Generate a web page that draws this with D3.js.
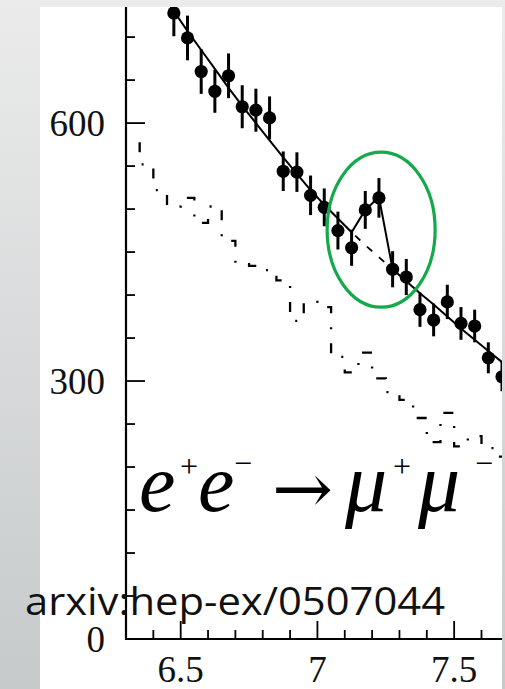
<!DOCTYPE html>
<html>
<head>
<meta charset="utf-8">
<script src="https://cdn.jsdelivr.net/npm/d3@7/dist/d3.min.js"></script>
<style>
  html, body { margin: 0; padding: 0; background: #fff; }
  svg { display: block; }
</style>
</head>
<body>
<svg id="chart" width="505" height="689"></svg>
<script>
// Dimuon invariant mass spectrum, e+e- -> mu+mu- (GeV bins of 0.05)
const binCenters = [6.475, 6.525, 6.575, 6.625, 6.675, 6.725, 6.775, 6.825, 6.875, 6.925,
                    6.975, 7.025, 7.075, 7.125, 7.175, 7.225, 7.275, 7.325, 7.375, 7.425,
                    7.475, 7.525, 7.575, 7.625, 7.675];
const counts     = [728, 699, 660, 637, 655, 619, 615, 606, 544, 543,
                    516, 502, 475, 455, 499, 513, 430, 421, 383, 371,
                    392, 367, 364, 327, 305];
const errors     = [27, 26, 26, 25, 26, 25, 25, 25, 23, 23,
                    23, 22, 22, 21, 22, 23, 21, 21, 20, 19,
                    20, 19, 19, 18, 17];

// Fit (background + peak) evaluated at bin centres
const fitMass   = [6.425, 6.475, 6.525, 6.575, 6.625, 6.675, 6.725, 6.775, 6.825, 6.875,
                   6.925, 6.975, 7.025, 7.075, 7.125, 7.175, 7.225, 7.275, 7.325, 7.375,
                   7.425, 7.475, 7.525, 7.575, 7.625, 7.675];
const fitValues = [753, 730, 707, 685, 663, 641, 620, 600, 580, 560,
                   541, 522, 505, 489, 473, 499, 514, 430, 416, 402,
                   389, 375, 361, 348, 335, 322];
// Background-only part of the fit under the peak
const bgMass   = [7.125, 7.175, 7.225, 7.275];
const bgValues = [473, 458, 444, 430];

// Second distribution, drawn as a step histogram
const histEdges  = [6.30, 6.35, 6.40, 6.45, 6.50, 6.55, 6.60, 6.65, 6.70, 6.75,
                    6.80, 6.85, 6.90, 6.95, 7.00, 7.05, 7.10, 7.15, 7.20, 7.25,
                    7.30, 7.35, 7.40, 7.45, 7.50, 7.55, 7.60, 7.65, 7.70];
const histLevels = [580, 552, 522, 503, 513, 484, 503, 463, 436, 434,
                    429, 417, 370, 392, 386, 328, 310, 333, 303, 287,
                    278, 257, 229, 263, 224, 236, 222, 212];

const xMajorTicks = [6.5, 7, 7.5];
const xMinorTicks = [6.4, 6.6, 6.7, 6.8, 6.9, 7.1, 7.2, 7.3, 7.4, 7.6];
const yMajorTicks = [0, 300, 600];
const yMinorTicks = [50, 100, 150, 200, 250, 350, 400, 450, 500, 550, 650, 700];

const reactionLabel = { e: "e", plus: "+", minus: "\u2212", arrow: "\u2192", mu: "\u03BC" };
const sourceLabel = "arxiv:hep-ex/0507044";
// Region of the excess, in data units
const excess = { mass: 7.233, count: 476 };

const SERIF = "Liberation Serif";
const W = 505, H = 689;
const svg = d3.select("#chart");
const defs = svg.append("defs");

// Backdrop and white panel
const grad = defs.append("linearGradient").attr("id", "bgGrad")
  .attr("x1", 0).attr("y1", 0).attr("x2", 0).attr("y2", 1);
grad.append("stop").attr("offset", "0%").attr("stop-color", "#ebebeb");
grad.append("stop").attr("offset", "100%").attr("stop-color", "#c6cacb");
svg.append("rect").attr("width", W).attr("height", H).attr("fill", "url(#bgGrad)");
const panel = { left: 40, top: 7, right: 502, bottom: 689 };
svg.append("rect").attr("x", panel.left).attr("y", panel.top)
  .attr("width", panel.right - panel.left).attr("height", panel.bottom - panel.top)
  .attr("fill", "#ffffff");

const plot = { left: 126, right: 502, top: 7, bottom: 639 };
const x = d3.scaleLinear().domain([6.30, 7.675]).range([plot.left, plot.right]);
const y = d3.scaleLinear().domain([0, 735]).range([plot.bottom, plot.top]);

defs.append("clipPath").attr("id", "plotClip").append("rect")
  .attr("x", plot.left).attr("y", plot.top)
  .attr("width", plot.right - plot.left).attr("height", plot.bottom - plot.top);

const g = svg.append("g").attr("clip-path", "url(#plotClip)");

// Step histogram with a dash-dot pattern
const stepPts = [[x(histEdges[1]), y(histLevels[0])]];
for (let i = 1; i < histLevels.length; i++) {
  stepPts.push([x(histEdges[i]), y(histLevels[i])]);
  stepPts.push([x(histEdges[i + 1]), y(histLevels[i])]);
}
g.append("path")
  .attr("d", d3.line()(stepPts))
  .attr("fill", "none").attr("stroke", "#000").attr("stroke-width", 2.3)
  .attr("stroke-dasharray", "10,14,2,14").attr("stroke-dashoffset", -2);

// Background under the peak (dashed)
g.append("path")
  .attr("d", d3.line().x((d, i) => x(bgMass[i])).y(d => y(d))(bgValues))
  .attr("fill", "none").attr("stroke", "#000").attr("stroke-width", 1.8)
  .attr("stroke-dasharray", "7,9").attr("stroke-dashoffset", -5);

// Fit
g.append("path")
  .attr("d", d3.line().x((d, i) => x(fitMass[i])).y(d => y(d))(fitValues))
  .attr("fill", "none").attr("stroke", "#000").attr("stroke-width", 2);

// Error bars and points
g.selectAll("line.err").data(counts).join("line").attr("class", "err")
  .attr("x1", (d, i) => x(binCenters[i])).attr("x2", (d, i) => x(binCenters[i]))
  .attr("y1", (d, i) => y(d - errors[i])).attr("y2", (d, i) => y(d + errors[i]))
  .attr("stroke", "#000").attr("stroke-width", 3);
g.selectAll("circle.pt").data(counts).join("circle").attr("class", "pt")
  .attr("cx", (d, i) => x(binCenters[i])).attr("cy", d => y(d))
  .attr("r", 6.6).attr("fill", "#000");

// Axes
const axes = svg.append("g").attr("stroke", "#000");
axes.append("line").attr("x1", plot.left).attr("x2", plot.left)
  .attr("y1", plot.top).attr("y2", plot.bottom + 1).attr("stroke-width", 2.2);
axes.append("line").attr("x1", plot.left - 1).attr("x2", plot.right)
  .attr("y1", plot.bottom).attr("y2", plot.bottom).attr("stroke-width", 2.2);
axes.selectAll("line.xmaj").data(xMajorTicks).join("line").attr("class", "xmaj")
  .attr("x1", d => x(d)).attr("x2", d => x(d))
  .attr("y1", plot.bottom).attr("y2", plot.bottom - 18).attr("stroke-width", 1.8);
axes.selectAll("line.xmin").data(xMinorTicks).join("line").attr("class", "xmin")
  .attr("x1", d => x(d)).attr("x2", d => x(d))
  .attr("y1", plot.bottom).attr("y2", plot.bottom - 9).attr("stroke-width", 1.8);
axes.selectAll("line.ymaj").data(yMajorTicks).join("line").attr("class", "ymaj")
  .attr("x1", plot.left).attr("x2", plot.left + 19)
  .attr("y1", d => y(d)).attr("y2", d => y(d)).attr("stroke-width", 1.8);
axes.selectAll("line.ymin").data(yMinorTicks).join("line").attr("class", "ymin")
  .attr("x1", plot.left).attr("x2", plot.left + 9)
  .attr("y1", d => y(d)).attr("y2", d => y(d)).attr("stroke-width", 1.8);

svg.selectAll("text.ylab").data(yMajorTicks).join("text").attr("class", "ylab")
  .attr("x", 105).attr("y", d => y(d) + 13)
  .attr("text-anchor", "end").attr("font-family", SERIF).attr("font-size", 37)
  .attr("fill", "#111").text(d => d);
svg.selectAll("text.xlab").data(xMajorTicks).join("text").attr("class", "xlab")
  .attr("x", d => x(d)).attr("y", 682)
  .attr("text-anchor", "middle").attr("font-family", SERIF).attr("font-size", 37)
  .attr("fill", "#111").text(d => d);

// Excess marker
svg.append("ellipse")
  .attr("cx", x(excess.mass)).attr("cy", y(excess.count))
  .attr("rx", 54).attr("ry", 77.5)
  .attr("fill", "none").attr("stroke", "#14a94b").attr("stroke-width", 3.2);

// Reaction label: italic particle symbols with upright superscript charges
const rx = svg.append("g").attr("fill", "#000");
const pieces = [
  { t: reactionLabel.e,     x: 139, y: 511, size: 82, italic: true },
  { t: reactionLabel.plus,  x: 180, y: 477, size: 32, italic: false },
  { t: reactionLabel.e,     x: 198, y: 511, size: 82, italic: true },
  { t: reactionLabel.minus, x: 234, y: 474, size: 32, italic: false },
  { t: reactionLabel.mu,    x: 345, y: 511, size: 84, italic: true },
  { t: reactionLabel.plus,  x: 393, y: 477, size: 32, italic: false },
  { t: reactionLabel.mu,    x: 418, y: 511, size: 84, italic: true },
  { t: reactionLabel.minus, x: 475, y: 474, size: 32, italic: false }
];
rx.selectAll("text").data(pieces).join("text")
  .attr("x", d => d.x).attr("y", d => d.y)
  .attr("font-family", SERIF)
  .attr("font-style", d => d.italic ? "italic" : "normal")
  .attr("font-size", d => d.size)
  .text(d => d.t);
rx.append("text").attr("x", 272).attr("y", 513)
  .attr("font-family", "DejaVu Serif")
  .attr("font-size", 70).attr("textLength", 61).attr("lengthAdjust", "spacingAndGlyphs")
  .text(reactionLabel.arrow);

// Source reference
svg.append("text").attr("x", 25).attr("y", 615)
  .attr("font-family", "Open Sans").attr("font-size", 39)
  .attr("textLength", 420).attr("lengthAdjust", "spacingAndGlyphs")
  .attr("fill", "#111").text(sourceLabel);
</script>
</body>
</html>
